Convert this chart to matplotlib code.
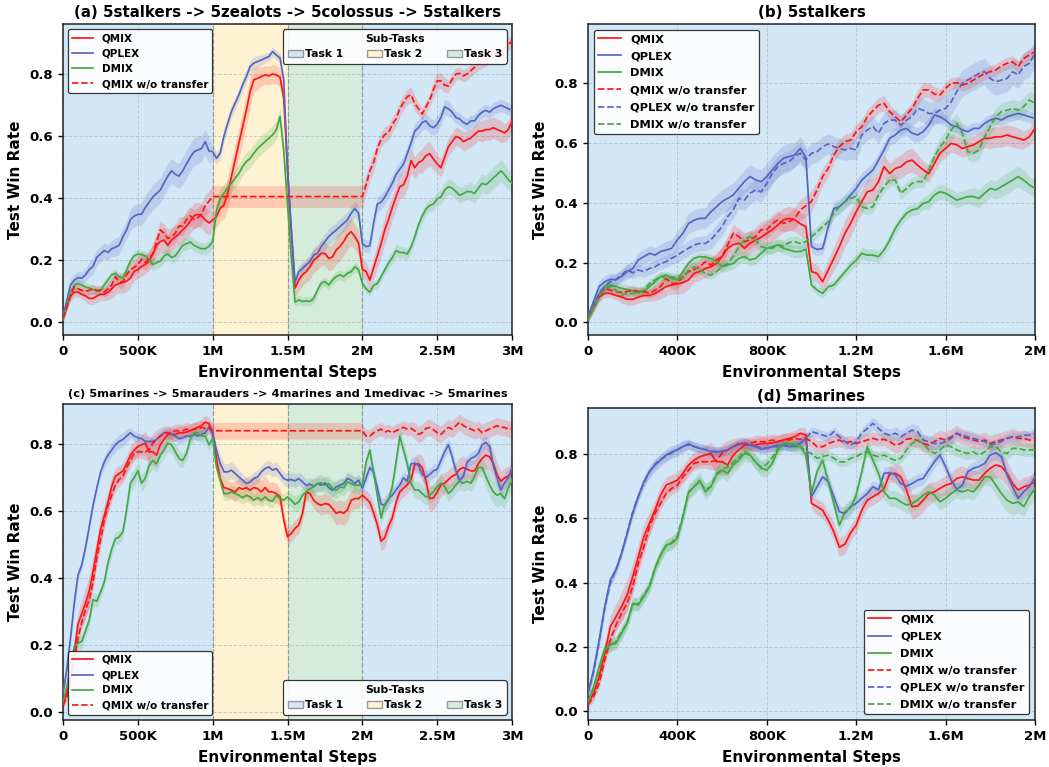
import numpy as np
import matplotlib
matplotlib.use("Agg")
import matplotlib.pyplot as plt
from matplotlib.patches import Patch
from matplotlib.ticker import FuncFormatter

plt.rcParams['font.family'] = ['DejaVu Sans']
plt.rcParams['font.weight'] = 'bold'
plt.rcParams['axes.labelweight'] = 'bold'
plt.rcParams['axes.titleweight'] = 'bold'

STEP = 25_000  # logging interval (env steps)

# ── 5stalkers (single task, 2M steps) ──────────────────────────────────────
B_QMIX = [0.013, 0.05, 0.085, 0.097, 0.097, 0.09, 0.085, 0.077, 0.077, 0.084,
          0.09, 0.09, 0.097, 0.108, 0.12, 0.125, 0.128, 0.133, 0.142, 0.164,
          0.17, 0.18, 0.186, 0.197, 0.22, 0.248, 0.26, 0.265, 0.248, 0.265,
          0.275, 0.285, 0.298, 0.31, 0.326, 0.343, 0.348, 0.343, 0.33, 0.32,
          0.17, 0.164, 0.136, 0.175, 0.214, 0.253, 0.298, 0.331, 0.37, 0.404,
          0.437, 0.443, 0.471, 0.521, 0.498, 0.515, 0.521, 0.537, 0.543, 0.526,
          0.51, 0.498, 0.532, 0.566, 0.582, 0.599, 0.594, 0.582, 0.588, 0.594,
          0.605, 0.616, 0.616, 0.621, 0.621, 0.627, 0.621, 0.616, 0.61, 0.621,
          0.649]
B_QPLEX = [0.02, 0.07, 0.12, 0.136, 0.144, 0.142, 0.153, 0.17, 0.18, 0.209,
           0.22, 0.231, 0.225, 0.237, 0.242, 0.248, 0.276, 0.298, 0.331, 0.342,
           0.348, 0.348, 0.37, 0.387, 0.404, 0.415, 0.426, 0.449, 0.471, 0.488,
           0.477, 0.471, 0.488, 0.51, 0.532, 0.549, 0.555, 0.56, 0.582, 0.552,
           0.253, 0.244, 0.247, 0.32, 0.381, 0.387, 0.404, 0.426, 0.448, 0.476,
           0.493, 0.51, 0.543, 0.577, 0.616, 0.627, 0.644, 0.649, 0.633, 0.627,
           0.638, 0.66, 0.694, 0.688, 0.677, 0.66, 0.655, 0.644, 0.638, 0.649,
           0.649, 0.666, 0.677, 0.683, 0.677, 0.688, 0.694, 0.699, 0.694, 0.688,
           0.683]
B_DMIX = [0.008, 0.052, 0.097, 0.12, 0.125, 0.12, 0.114, 0.11, 0.106, 0.1,
          0.103, 0.12, 0.136, 0.153, 0.158, 0.147, 0.142, 0.17, 0.197, 0.214,
          0.22, 0.218, 0.214, 0.203, 0.186, 0.192, 0.197, 0.214, 0.22, 0.209,
          0.214, 0.231, 0.248, 0.253, 0.259, 0.248, 0.242, 0.237, 0.237, 0.245,
          0.125, 0.108, 0.097, 0.119, 0.125, 0.147, 0.169, 0.191, 0.208, 0.231,
          0.225, 0.225, 0.22, 0.242, 0.275, 0.314, 0.342, 0.365, 0.376, 0.381,
          0.398, 0.404, 0.426, 0.437, 0.432, 0.421, 0.409, 0.415, 0.421, 0.421,
          0.415, 0.432, 0.448, 0.443, 0.454, 0.465, 0.476, 0.488, 0.476, 0.46,
          0.448]
B_QMIX_WO = [0.013, 0.05, 0.085, 0.114, 0.108, 0.103, 0.1, 0.103, 0.108, 0.103,
             0.103, 0.097, 0.108, 0.12, 0.147, 0.13, 0.13, 0.153, 0.17, 0.177,
             0.186, 0.203, 0.192, 0.209, 0.22, 0.259, 0.298, 0.287, 0.27, 0.276,
             0.287, 0.31, 0.31, 0.331, 0.343, 0.331, 0.337, 0.348, 0.376, 0.39,
             0.405, 0.443, 0.488, 0.515, 0.56, 0.588, 0.605, 0.61, 0.638, 0.655,
             0.688, 0.708, 0.727, 0.733, 0.705, 0.688, 0.671, 0.694, 0.716, 0.75,
             0.778, 0.778, 0.764, 0.761, 0.783, 0.8, 0.802, 0.794, 0.8, 0.811,
             0.822, 0.833, 0.839, 0.845, 0.858, 0.867, 0.872, 0.856, 0.883, 0.895,
             0.906]
B_QPLEX_WO = [0.02, 0.058, 0.097, 0.12, 0.136, 0.144, 0.158, 0.175, 0.166, 0.175,
              0.17, 0.18, 0.186, 0.197, 0.203, 0.214, 0.225, 0.237, 0.248, 0.259,
              0.264, 0.264, 0.276, 0.298, 0.32, 0.354, 0.376, 0.415, 0.409, 0.432,
              0.443, 0.437, 0.465, 0.499, 0.521, 0.532, 0.538, 0.555, 0.566, 0.543,
              0.566, 0.571, 0.588, 0.597, 0.588, 0.582, 0.577, 0.582, 0.577, 0.627,
              0.644, 0.655, 0.633, 0.666, 0.677, 0.677, 0.66, 0.677, 0.688, 0.716,
              0.71, 0.699, 0.699, 0.71, 0.716, 0.738, 0.772, 0.8, 0.811, 0.822,
              0.833, 0.839, 0.816, 0.805, 0.811, 0.816, 0.839, 0.828, 0.856, 0.867,
              0.9]
B_DMIX_WO = [0.008, 0.047, 0.085, 0.114, 0.12, 0.108, 0.091, 0.097, 0.097, 0.103,
             0.108, 0.13, 0.142, 0.155, 0.147, 0.153, 0.147, 0.147, 0.175, 0.186,
             0.175, 0.164, 0.158, 0.17, 0.186, 0.197, 0.22, 0.253, 0.276, 0.287,
             0.276, 0.253, 0.248, 0.248, 0.259, 0.256, 0.267, 0.27, 0.264, 0.27,
             0.286, 0.303, 0.32, 0.337, 0.365, 0.387, 0.404, 0.415, 0.421, 0.387,
             0.381, 0.387, 0.426, 0.454, 0.476, 0.476, 0.432, 0.448, 0.465, 0.471,
             0.471, 0.51, 0.554, 0.588, 0.61, 0.644, 0.666, 0.633, 0.571, 0.566,
             0.577, 0.621, 0.655, 0.688, 0.705, 0.71, 0.716, 0.71, 0.722, 0.744,
             0.733]

B_QMIX_SD = [0.01, 0.015, 0.015, 0.015, 0.015, 0.015, 0.02, 0.02, 0.02, 0.02,
             0.02, 0.02, 0.025, 0.03, 0.03, 0.03, 0.035, 0.035, 0.03, 0.03,
             0.03, 0.03, 0.03, 0.03, 0.035, 0.035, 0.04, 0.04, 0.035, 0.035,
             0.035, 0.035, 0.04, 0.04, 0.04, 0.04, 0.04, 0.04, 0.04, 0.04,
             0.03, 0.03, 0.03, 0.035, 0.04, 0.045, 0.045, 0.045, 0.04, 0.04,
             0.04, 0.04, 0.04, 0.04, 0.035, 0.035, 0.04, 0.04, 0.04, 0.035,
             0.03, 0.03, 0.03, 0.03, 0.03, 0.03, 0.03, 0.03, 0.03, 0.03,
             0.03, 0.03, 0.035, 0.035, 0.035, 0.035, 0.035, 0.035, 0.03, 0.03,
             0.03]
B_QPLEX_SD = [0.01, 0.015, 0.02, 0.02, 0.02, 0.02, 0.02, 0.025, 0.025, 0.025,
              0.025, 0.025, 0.025, 0.025, 0.03, 0.03, 0.03, 0.03, 0.035, 0.035,
              0.035, 0.035, 0.04, 0.04, 0.04, 0.04, 0.04, 0.04, 0.04, 0.04,
              0.04, 0.04, 0.045, 0.045, 0.045, 0.045, 0.045, 0.04, 0.04, 0.04,
              0.02, 0.02, 0.02, 0.025, 0.025, 0.025, 0.025, 0.025, 0.025, 0.025,
              0.025, 0.025, 0.025, 0.025, 0.025, 0.025, 0.025, 0.025, 0.025, 0.025,
              0.025, 0.025, 0.025, 0.025, 0.02, 0.02, 0.02, 0.02, 0.02, 0.02,
              0.02, 0.02, 0.02, 0.02, 0.02, 0.02, 0.02, 0.02, 0.02, 0.02,
              0.02]
B_DMIX_SD = [0.01, 0.01, 0.015, 0.015, 0.015, 0.015, 0.015, 0.015, 0.015, 0.015,
             0.015, 0.015, 0.015, 0.015, 0.015, 0.015, 0.015, 0.015, 0.015, 0.015,
             0.015, 0.015, 0.015, 0.015, 0.02, 0.02, 0.02, 0.02, 0.02, 0.02,
             0.02, 0.02, 0.02, 0.02, 0.02, 0.02, 0.02, 0.02, 0.02, 0.02,
             0.015, 0.015, 0.015, 0.015, 0.015, 0.015, 0.015, 0.02, 0.02, 0.02,
             0.02, 0.02, 0.02, 0.02, 0.02, 0.02, 0.02, 0.02, 0.02, 0.02,
             0.02, 0.025, 0.025, 0.025, 0.025, 0.025, 0.025, 0.025, 0.025, 0.03,
             0.03, 0.03, 0.03, 0.03, 0.035, 0.035, 0.035, 0.035, 0.035, 0.03,
             0.03]
B_QMIX_WO_SD = [0.01, 0.015, 0.015, 0.015, 0.015, 0.015, 0.015, 0.015, 0.015, 0.015,
                0.015, 0.015, 0.02, 0.02, 0.02, 0.02, 0.02, 0.02, 0.025, 0.025,
                0.025, 0.025, 0.025, 0.025, 0.03, 0.03, 0.03, 0.03, 0.03, 0.03,
                0.03, 0.03, 0.03, 0.03, 0.03, 0.03, 0.03, 0.035, 0.035, 0.035,
                0.035, 0.03, 0.03, 0.03, 0.025, 0.025, 0.025, 0.025, 0.025, 0.025,
                0.025, 0.025, 0.025, 0.025, 0.025, 0.02, 0.02, 0.02, 0.02, 0.025,
                0.025, 0.025, 0.025, 0.02, 0.02, 0.02, 0.02, 0.02, 0.02, 0.02,
                0.02, 0.02, 0.02, 0.02, 0.02, 0.02, 0.02, 0.02, 0.02, 0.02,
                0.02]
B_QPLEX_WO_SD = [0.01, 0.015, 0.015, 0.02, 0.02, 0.02, 0.02, 0.02, 0.02, 0.02,
                 0.02, 0.02, 0.02, 0.02, 0.02, 0.02, 0.025, 0.025, 0.025, 0.025,
                 0.025, 0.025, 0.03, 0.03, 0.03, 0.03, 0.03, 0.035, 0.035, 0.035,
                 0.035, 0.035, 0.035, 0.035, 0.035, 0.035, 0.035, 0.035, 0.035, 0.035,
                 0.035, 0.035, 0.035, 0.035, 0.035, 0.035, 0.035, 0.035, 0.035, 0.035,
                 0.035, 0.035, 0.035, 0.035, 0.035, 0.035, 0.035, 0.035, 0.035, 0.04,
                 0.04, 0.04, 0.04, 0.04, 0.045, 0.045, 0.045, 0.045, 0.045, 0.045,
                 0.045, 0.045, 0.045, 0.045, 0.045, 0.045, 0.045, 0.045, 0.045, 0.045,
                 0.045]
B_DMIX_WO_SD = [0.01, 0.015, 0.015, 0.015, 0.015, 0.015, 0.015, 0.015, 0.015, 0.015,
                0.015, 0.015, 0.015, 0.015, 0.015, 0.015, 0.015, 0.015, 0.015, 0.015,
                0.015, 0.015, 0.015, 0.015, 0.015, 0.015, 0.02, 0.02, 0.02, 0.02,
                0.02, 0.02, 0.02, 0.02, 0.02, 0.02, 0.02, 0.02, 0.02, 0.02,
                0.02, 0.02, 0.02, 0.02, 0.02, 0.02, 0.02, 0.02, 0.02, 0.02,
                0.02, 0.02, 0.02, 0.02, 0.02, 0.02, 0.02, 0.02, 0.02, 0.02,
                0.02, 0.025, 0.025, 0.03, 0.03, 0.035, 0.035, 0.03, 0.03, 0.03,
                0.03, 0.03, 0.03, 0.03, 0.03, 0.03, 0.03, 0.03, 0.03, 0.03,
                0.03]

# sequence (a): task 2 = 5zealots, task 3 = 5colossus (transfer runs only)
A_T2_QMIX = [0.33, 0.34, 0.367, 0.378, 0.416, 0.469, 0.523, 0.577, 0.63, 0.684,
             0.743, 0.781, 0.786, 0.792, 0.797, 0.794, 0.8, 0.797, 0.79, 0.72]
A_T3_QMIX = [0.49, 0.29, 0.11, 0.136, 0.153, 0.163, 0.179, 0.2, 0.21, 0.222,
             0.222, 0.206, 0.21, 0.233, 0.244, 0.26, 0.281, 0.292, 0.276, 0.255]
A_T2_QPLEX = [0.55, 0.528, 0.545, 0.6, 0.641, 0.679, 0.706, 0.733, 0.765, 0.792,
              0.824, 0.835, 0.84, 0.845, 0.851, 0.856, 0.872, 0.861, 0.851, 0.78]
A_T3_QPLEX = [0.49, 0.3, 0.13, 0.163, 0.174, 0.185, 0.195, 0.217, 0.222, 0.244,
              0.26, 0.276, 0.287, 0.297, 0.308, 0.319, 0.33, 0.351, 0.367, 0.351]
A_T2_DMIX = [0.26, 0.36, 0.4, 0.416, 0.432, 0.448, 0.464, 0.48, 0.502, 0.518,
             0.528, 0.545, 0.56, 0.571, 0.582, 0.593, 0.604, 0.62, 0.663, 0.55]
A_T3_DMIX = [0.38, 0.21, 0.065, 0.072, 0.067, 0.069, 0.067, 0.077, 0.104, 0.126,
             0.131, 0.12, 0.136, 0.147, 0.153, 0.147, 0.158, 0.163, 0.179, 0.169]
A_T2_QMIX_SD = [0.03, 0.035, 0.04, 0.045, 0.05, 0.05, 0.05, 0.05, 0.05, 0.05,
                0.05, 0.04, 0.035, 0.03, 0.03, 0.03, 0.03, 0.03, 0.03, 0.03]
A_T3_QMIX_SD = [0.03, 0.03, 0.03, 0.035, 0.035, 0.035, 0.04, 0.04, 0.04, 0.04,
                0.04, 0.04, 0.04, 0.045, 0.045, 0.045, 0.045, 0.045, 0.04, 0.04]
A_T2_QPLEX_SD = [0.02, 0.02, 0.02, 0.02, 0.02, 0.02, 0.02, 0.02, 0.02, 0.02,
                 0.02, 0.02, 0.02, 0.015, 0.015, 0.015, 0.015, 0.015, 0.015, 0.015]
A_T3_QPLEX_SD = [0.02, 0.02, 0.02, 0.02, 0.02, 0.02, 0.02, 0.02, 0.02, 0.025,
                 0.025, 0.025, 0.025, 0.025, 0.025, 0.025, 0.025, 0.025, 0.025, 0.025]
A_T2_DMIX_SD = [0.02, 0.03, 0.03, 0.03, 0.03, 0.03, 0.03, 0.03, 0.03, 0.03,
                0.03, 0.03, 0.03, 0.03, 0.03, 0.03, 0.03, 0.03, 0.03, 0.03]
A_T3_DMIX_SD = [0.015, 0.015, 0.015, 0.015, 0.015, 0.015, 0.015, 0.015, 0.015, 0.015,
                0.015, 0.015, 0.015, 0.015, 0.015, 0.015, 0.015, 0.015, 0.015, 0.015]
A_QMIX_WO_HOLD = 0.405
A_QMIX_WO_HOLD_SD = 0.035

# ── 5marines (single task, 2M steps) ───────────────────────────────────────
D_QMIX = [0.023, 0.054, 0.106, 0.179, 0.262, 0.293, 0.325, 0.361, 0.418, 0.48,
          0.543, 0.585, 0.626, 0.673, 0.704, 0.712, 0.72, 0.741, 0.767, 0.782,
          0.793, 0.798, 0.803, 0.777, 0.777, 0.767, 0.798, 0.814, 0.829, 0.829,
          0.829, 0.834, 0.834, 0.836, 0.84, 0.845, 0.85, 0.855, 0.866, 0.861,
          0.647, 0.637, 0.626, 0.595, 0.559, 0.51, 0.52, 0.555, 0.579, 0.626,
          0.657, 0.668, 0.678, 0.694, 0.739, 0.741, 0.73, 0.689, 0.637, 0.639,
          0.657, 0.678, 0.683, 0.694, 0.704, 0.709, 0.725, 0.73, 0.725, 0.72,
          0.72, 0.741, 0.757, 0.767, 0.762, 0.741, 0.709, 0.689, 0.699, 0.704,
          0.715]
D_QPLEX = [0.054, 0.127, 0.22, 0.325, 0.408, 0.439, 0.491, 0.553, 0.616, 0.668,
           0.715, 0.746, 0.767, 0.782, 0.798, 0.808, 0.814, 0.824, 0.834, 0.824,
           0.819, 0.816, 0.808, 0.808, 0.808, 0.814, 0.824, 0.834, 0.834, 0.829,
           0.824, 0.816, 0.819, 0.824, 0.824, 0.829, 0.824, 0.829, 0.834, 0.85,
           0.668, 0.699, 0.73, 0.715, 0.668, 0.621, 0.616, 0.637, 0.647, 0.663,
           0.678, 0.699, 0.689, 0.741, 0.743, 0.736, 0.709, 0.701, 0.709, 0.72,
           0.725, 0.751, 0.777, 0.798, 0.762, 0.72, 0.691, 0.704, 0.746, 0.757,
           0.762, 0.772, 0.798, 0.805, 0.793, 0.736, 0.699, 0.663, 0.684, 0.699,
           0.73]
D_DMIX = [0.028, 0.075, 0.137, 0.195, 0.205, 0.21, 0.241, 0.273, 0.335, 0.33,
          0.356, 0.387, 0.444, 0.486, 0.517, 0.522, 0.538, 0.605, 0.683, 0.699,
          0.72, 0.683, 0.699, 0.736, 0.751, 0.741, 0.767, 0.782, 0.803, 0.798,
          0.777, 0.757, 0.751, 0.772, 0.814, 0.834, 0.834, 0.824, 0.824, 0.798,
          0.678, 0.746, 0.782, 0.715, 0.647, 0.579, 0.621, 0.632, 0.673, 0.746,
          0.824, 0.782, 0.741, 0.683, 0.663, 0.663, 0.652, 0.642, 0.647, 0.657,
          0.673, 0.683, 0.673, 0.652, 0.663, 0.678, 0.689, 0.683, 0.689, 0.683,
          0.704, 0.73, 0.73, 0.704, 0.678, 0.657, 0.647, 0.652, 0.637, 0.668,
          0.694]
D_QMIX_WO = [0.018, 0.044, 0.085, 0.158, 0.22, 0.267, 0.304, 0.335, 0.387, 0.46,
             0.512, 0.574, 0.616, 0.647, 0.678, 0.694, 0.704, 0.73, 0.751, 0.772,
             0.777, 0.777, 0.777, 0.782, 0.803, 0.814, 0.824, 0.834, 0.834, 0.834,
             0.84, 0.84, 0.84, 0.845, 0.84, 0.845, 0.845, 0.85, 0.847, 0.85,
             0.84, 0.824, 0.824, 0.834, 0.84, 0.845, 0.836, 0.84, 0.834, 0.84,
             0.845, 0.85, 0.845, 0.847, 0.84, 0.829, 0.834, 0.847, 0.85, 0.843,
             0.834, 0.829, 0.84, 0.85, 0.845, 0.855, 0.866, 0.855, 0.85, 0.845,
             0.84, 0.845, 0.834, 0.84, 0.845, 0.85, 0.855, 0.85, 0.85, 0.845,
             0.845]
D_QPLEX_WO = [0.05, 0.12, 0.215, 0.32, 0.40, 0.44, 0.49, 0.555, 0.62, 0.67,
              0.71, 0.745, 0.77, 0.785, 0.795, 0.805, 0.815, 0.825, 0.83, 0.825,
              0.82, 0.815, 0.81, 0.81, 0.81, 0.815, 0.825, 0.83, 0.835, 0.83,
              0.825, 0.82, 0.82, 0.825, 0.83, 0.83, 0.825, 0.825, 0.835, 0.85,
              0.871, 0.866, 0.86, 0.855, 0.871, 0.855, 0.84, 0.829, 0.84, 0.866,
              0.881, 0.897, 0.881, 0.866, 0.86, 0.866, 0.855, 0.866, 0.876, 0.871,
              0.845, 0.84, 0.834, 0.834, 0.84, 0.85, 0.866, 0.86, 0.855, 0.85,
              0.845, 0.84, 0.829, 0.834, 0.84, 0.85, 0.855, 0.855, 0.86, 0.86,
              0.866]
D_DMIX_WO = [0.025, 0.07, 0.13, 0.19, 0.205, 0.215, 0.245, 0.275, 0.33, 0.335,
             0.36, 0.39, 0.445, 0.485, 0.515, 0.525, 0.545, 0.61, 0.68, 0.70,
             0.715, 0.69, 0.70, 0.74, 0.755, 0.76, 0.775, 0.79, 0.81, 0.80,
             0.775, 0.76, 0.77, 0.79, 0.82, 0.835, 0.835, 0.83, 0.825, 0.81,
             0.803, 0.788, 0.793, 0.798, 0.788, 0.777, 0.777, 0.788, 0.793, 0.803,
             0.808, 0.798, 0.793, 0.798, 0.788, 0.782, 0.788, 0.814, 0.834, 0.845,
             0.834, 0.814, 0.803, 0.814, 0.829, 0.824, 0.814, 0.808, 0.803, 0.808,
             0.798, 0.808, 0.824, 0.824, 0.808, 0.803, 0.819, 0.819, 0.814, 0.814,
             0.814]

D_QMIX_SD = [0.01, 0.015, 0.02, 0.03, 0.035, 0.04, 0.045, 0.045, 0.045, 0.04,
             0.04, 0.035, 0.03, 0.03, 0.025, 0.025, 0.025, 0.025, 0.025, 0.025,
             0.025, 0.03, 0.035, 0.04, 0.04, 0.035, 0.03, 0.025, 0.02, 0.02,
             0.02, 0.02, 0.02, 0.02, 0.02, 0.02, 0.02, 0.02, 0.02, 0.02,
             0.02, 0.025, 0.025, 0.025, 0.03, 0.03, 0.03, 0.025, 0.025, 0.025,
             0.025, 0.025, 0.025, 0.025, 0.025, 0.03, 0.035, 0.04, 0.04, 0.035,
             0.035, 0.035, 0.03, 0.03, 0.03, 0.035, 0.035, 0.035, 0.03, 0.03,
             0.03, 0.03, 0.035, 0.04, 0.04, 0.04, 0.035, 0.03, 0.03, 0.03,
             0.03]
D_QPLEX_SD = [0.01, 0.015, 0.015, 0.015, 0.015, 0.015, 0.015, 0.015, 0.015, 0.015,
              0.015, 0.02, 0.02, 0.02, 0.02, 0.02, 0.02, 0.02, 0.015, 0.015,
              0.015, 0.015, 0.015, 0.015, 0.015, 0.015, 0.015, 0.015, 0.015, 0.015,
              0.015, 0.015, 0.015, 0.015, 0.015, 0.015, 0.015, 0.015, 0.015, 0.015,
              0.015, 0.02, 0.02, 0.02, 0.02, 0.02, 0.02, 0.02, 0.02, 0.02,
              0.02, 0.02, 0.02, 0.02, 0.02, 0.02, 0.02, 0.02, 0.02, 0.02,
              0.02, 0.02, 0.02, 0.02, 0.02, 0.02, 0.02, 0.02, 0.02, 0.02,
              0.02, 0.02, 0.02, 0.02, 0.02, 0.02, 0.025, 0.025, 0.025, 0.025,
              0.025]
D_DMIX_SD = [0.01, 0.015, 0.015, 0.02, 0.02, 0.02, 0.02, 0.02, 0.02, 0.02,
             0.02, 0.02, 0.02, 0.02, 0.02, 0.02, 0.02, 0.025, 0.025, 0.025,
             0.025, 0.025, 0.025, 0.025, 0.025, 0.025, 0.025, 0.025, 0.025, 0.025,
             0.025, 0.025, 0.02, 0.02, 0.02, 0.02, 0.02, 0.02, 0.02, 0.02,
             0.02, 0.025, 0.025, 0.025, 0.025, 0.025, 0.025, 0.025, 0.025, 0.025,
             0.025, 0.025, 0.025, 0.025, 0.025, 0.025, 0.025, 0.025, 0.025, 0.025,
             0.025, 0.025, 0.025, 0.025, 0.025, 0.025, 0.025, 0.025, 0.025, 0.025,
             0.025, 0.025, 0.03, 0.03, 0.035, 0.035, 0.035, 0.035, 0.03, 0.03,
             0.03]
D_QMIX_WO_SD = [0.01, 0.015, 0.015, 0.02, 0.02, 0.02, 0.025, 0.025, 0.025, 0.025,
                0.025, 0.025, 0.025, 0.02, 0.02, 0.02, 0.02, 0.02, 0.02, 0.02,
                0.02, 0.02, 0.025, 0.03, 0.03, 0.03, 0.025, 0.02, 0.02, 0.02,
                0.02, 0.02, 0.02, 0.02, 0.02, 0.02, 0.02, 0.02, 0.02, 0.02,
                0.02, 0.02, 0.02, 0.02, 0.02, 0.02, 0.02, 0.02, 0.02, 0.02,
                0.02, 0.02, 0.02, 0.02, 0.025, 0.025, 0.025, 0.025, 0.025, 0.025,
                0.025, 0.025, 0.025, 0.025, 0.025, 0.025, 0.025, 0.025, 0.025, 0.025,
                0.025, 0.025, 0.025, 0.025, 0.025, 0.025, 0.025, 0.025, 0.025, 0.025,
                0.025]
D_QPLEX_WO_SD = [0.01, 0.015, 0.015, 0.015, 0.015, 0.015, 0.015, 0.015, 0.015, 0.015,
                 0.015, 0.015, 0.015, 0.015, 0.015, 0.015, 0.015, 0.015, 0.015, 0.015,
                 0.015, 0.015, 0.015, 0.015, 0.015, 0.015, 0.015, 0.015, 0.015, 0.015,
                 0.015, 0.015, 0.015, 0.015, 0.015, 0.015, 0.015, 0.015, 0.015, 0.015,
                 0.015, 0.015, 0.015, 0.015, 0.015, 0.015, 0.015, 0.015, 0.015, 0.015,
                 0.02, 0.02, 0.02, 0.02, 0.02, 0.02, 0.02, 0.02, 0.02, 0.02,
                 0.02, 0.02, 0.02, 0.02, 0.015, 0.015, 0.015, 0.015, 0.015, 0.015,
                 0.015, 0.015, 0.015, 0.015, 0.015, 0.015, 0.015, 0.015, 0.015, 0.015,
                 0.015]
D_DMIX_WO_SD = [0.01, 0.015, 0.015, 0.02, 0.02, 0.02, 0.02, 0.02, 0.02, 0.02,
                0.02, 0.02, 0.02, 0.02, 0.02, 0.02, 0.02, 0.02, 0.02, 0.02,
                0.02, 0.02, 0.02, 0.02, 0.02, 0.02, 0.02, 0.02, 0.02, 0.02,
                0.02, 0.02, 0.02, 0.02, 0.015, 0.015, 0.015, 0.015, 0.015, 0.015,
                0.015, 0.015, 0.015, 0.015, 0.015, 0.015, 0.015, 0.015, 0.015, 0.015,
                0.015, 0.015, 0.015, 0.015, 0.015, 0.015, 0.015, 0.02, 0.02, 0.02,
                0.02, 0.02, 0.02, 0.02, 0.02, 0.02, 0.02, 0.02, 0.02, 0.02,
                0.02, 0.02, 0.02, 0.02, 0.02, 0.02, 0.02, 0.02, 0.02, 0.02,
                0.02]

# sequence (c): task 2 = 5marauders, task 3 = 4marines and 1medivac
C_T2_QMIX = [0.832, 0.757, 0.697, 0.67, 0.667, 0.662, 0.657, 0.67, 0.665, 0.67,
             0.662, 0.67, 0.667, 0.657, 0.67, 0.657, 0.657, 0.652, 0.642, 0.573]
C_T3_QMIX = [0.523, 0.533, 0.548, 0.558, 0.593, 0.657, 0.652, 0.632, 0.622, 0.617,
             0.622, 0.62, 0.608, 0.593, 0.598, 0.593, 0.603, 0.632, 0.637, 0.637]
C_T2_QPLEX = [0.832, 0.782, 0.742, 0.717, 0.717, 0.722, 0.712, 0.702, 0.692, 0.682,
              0.687, 0.697, 0.702, 0.717, 0.727, 0.732, 0.722, 0.727, 0.712, 0.697]
C_T3_QPLEX = [0.692, 0.694, 0.69, 0.697, 0.687, 0.677, 0.68, 0.674, 0.682, 0.677,
              0.684, 0.67, 0.662, 0.672, 0.677, 0.682, 0.697, 0.692, 0.682, 0.692]
C_T2_DMIX = [0.817, 0.732, 0.692, 0.652, 0.652, 0.657, 0.652, 0.647, 0.64, 0.647,
             0.642, 0.632, 0.64, 0.632, 0.642, 0.632, 0.63, 0.647, 0.637, 0.632]
C_T3_DMIX = [0.642, 0.632, 0.62, 0.627, 0.647, 0.657, 0.667, 0.672, 0.682, 0.684,
             0.677, 0.682, 0.667, 0.662, 0.672, 0.67, 0.687, 0.682, 0.677, 0.677]
C_T2_QMIX_SD = [0.02, 0.02, 0.025, 0.025, 0.025, 0.025, 0.03, 0.03, 0.03, 0.03,
                0.035, 0.035, 0.035, 0.035, 0.035, 0.03, 0.03, 0.03, 0.025, 0.025]
C_T3_QMIX_SD = [0.025, 0.025, 0.025, 0.025, 0.025, 0.025, 0.025, 0.025, 0.025, 0.03,
                0.03, 0.03, 0.03, 0.035, 0.035, 0.035, 0.035, 0.03, 0.03, 0.03]
C_T2_QPLEX_SD = [0.02, 0.02, 0.025, 0.025, 0.025, 0.025, 0.025, 0.02, 0.02, 0.02,
                 0.02, 0.02, 0.02, 0.02, 0.02, 0.02, 0.02, 0.02, 0.02, 0.02]
C_T3_QPLEX_SD = [0.02, 0.02, 0.02, 0.02, 0.02, 0.02, 0.02, 0.02, 0.02, 0.02,
                 0.02, 0.02, 0.02, 0.02, 0.02, 0.02, 0.02, 0.02, 0.02, 0.02]
C_T2_DMIX_SD = [0.02, 0.02, 0.02, 0.02, 0.02, 0.02, 0.02, 0.02, 0.02, 0.02,
                0.02, 0.02, 0.02, 0.02, 0.02, 0.02, 0.02, 0.02, 0.02, 0.02]
C_T3_DMIX_SD = [0.02, 0.02, 0.025, 0.025, 0.025, 0.025, 0.025, 0.025, 0.025, 0.025,
                0.025, 0.025, 0.025, 0.025, 0.025, 0.025, 0.025, 0.025, 0.025, 0.025]
C_QMIX_WO_HOLD = 0.84
C_QMIX_WO_HOLD_SD = 0.025

COLORS = {'QMIX': '#ff1414', 'QPLEX': '#5566c2', 'DMIX': '#44a844'}
TASK_COLORS = ['#d2e7f6', '#fdf2d2', '#d5ecdc']
TASK_NAMES = ['Task 1', 'Task 2', 'Task 3']


def stitch(single, task2, task3):
    """task-1 run split at 1M, tasks 2/3 inserted between the halves"""
    single = np.asarray(single)
    return np.concatenate([single[:40], task2, task3, single[40:]])


def hold(single, value):
    single = np.asarray(single)
    return np.concatenate([single[:40], np.full(40, value), single[40:]])


def steps_fmt(v, _pos):
    if v == 0:
        return '0'
    if v >= 1e6:
        return f'{v / 1e6:g}M'
    return f'{v / 1e3:g}K'


def draw_panel(ax, series, title, xmax, xticks, ylim, title_size=10.8,
               legend_loc='upper left', legend_size=7.5, legend_spacing=0.5,
               task_legend_loc=None):
    ax.set_facecolor(TASK_COLORS[0])
    if task_legend_loc is not None:
        ax.axvspan(1.0e6, 1.5e6, color=TASK_COLORS[1], lw=0, zorder=0)
        ax.axvspan(1.5e6, 2.0e6, color=TASK_COLORS[2], lw=0, zorder=0)
        for xv in (1.0e6, 1.5e6, 2.0e6):
            ax.axvline(xv, color='#999999', ls='--', lw=0.9, zorder=1)

    handles = []
    for label, y, sd, color, ls in series:
        y = np.asarray(y)
        sd = np.asarray(sd)
        x = np.arange(len(y)) * STEP
        ax.fill_between(x, y - sd, y + sd, color=color, alpha=0.18, lw=0, zorder=2)
        h, = ax.plot(x, y, color=color, ls=ls, lw=1.25, label=label, zorder=3)
        handles.append(h)

    ax.set_xlim(0, xmax)
    ax.set_ylim(*ylim)
    ax.set_xticks(xticks)
    ax.set_yticks([0.0, 0.2, 0.4, 0.6, 0.8])
    ax.xaxis.set_major_formatter(FuncFormatter(steps_fmt))
    ax.tick_params(labelsize=9.5, width=1, length=3.5)
    ax.grid(True, ls='--', color='#aaaaaa', alpha=0.55, lw=0.7)
    ax.set_axisbelow(True)
    for sp in ax.spines.values():
        sp.set_linewidth(1.1)
        sp.set_color('#222222')
    ax.set_xlabel('Environmental Steps', fontsize=11, labelpad=5)
    ax.set_ylabel('Test Win Rate', fontsize=11, labelpad=5)
    ax.set_title(title, fontsize=title_size, pad=5)

    leg = ax.legend(handles=handles, loc=legend_loc, fontsize=legend_size,
                    labelspacing=legend_spacing, framealpha=0.9,
                    edgecolor='#222222', fancybox=True)
    leg.get_frame().set_linewidth(0.9)
    if task_legend_loc is not None:
        ax.add_artist(leg)
        patches = [Patch(facecolor=c, edgecolor='#999999', label=n)
                   for c, n in zip(TASK_COLORS, TASK_NAMES)]
        tleg = ax.legend(handles=patches, loc=task_legend_loc, ncol=3,
                         title='Sub-Tasks', fontsize=7.8, title_fontsize=7.8,
                         handlelength=1.4, handletextpad=0.2, columnspacing=2.2,
                         framealpha=0.9, edgecolor='#222222', fancybox=True)
        tleg.get_frame().set_linewidth(0.9)
        tleg.get_title().set_fontweight('bold')


fig = plt.figure(figsize=(10.49, 7.67), dpi=100)
ax_a = fig.add_axes([0.0601, 0.5632, 0.4280, 0.4055])
ax_b = fig.add_axes([0.5605, 0.5632, 0.4261, 0.4055])
ax_c = fig.add_axes([0.0601, 0.0613, 0.4280, 0.4120])
ax_d = fig.add_axes([0.5605, 0.0613, 0.4261, 0.4068])

xt3 = [0, 5e5, 1e6, 1.5e6, 2e6, 2.5e6, 3e6]
xt2 = [0, 4e5, 8e5, 1.2e6, 1.6e6, 2e6]

draw_panel(ax_a, [
    ('QMIX', stitch(B_QMIX, A_T2_QMIX, A_T3_QMIX),
     stitch(B_QMIX_SD, A_T2_QMIX_SD, A_T3_QMIX_SD), COLORS['QMIX'], '-'),
    ('QPLEX', stitch(B_QPLEX, A_T2_QPLEX, A_T3_QPLEX),
     stitch(B_QPLEX_SD, A_T2_QPLEX_SD, A_T3_QPLEX_SD), COLORS['QPLEX'], '-'),
    ('DMIX', stitch(B_DMIX, A_T2_DMIX, A_T3_DMIX),
     stitch(B_DMIX_SD, A_T2_DMIX_SD, A_T3_DMIX_SD), COLORS['DMIX'], '-'),
    ('QMIX w/o transfer', hold(B_QMIX_WO, A_QMIX_WO_HOLD),
     hold(B_QMIX_WO_SD, A_QMIX_WO_HOLD_SD), COLORS['QMIX'], '--'),
], '(a) 5stalkers -> 5zealots -> 5colossus -> 5stalkers', 3e6, xt3,
    (-0.041, 0.961), legend_loc='upper left', task_legend_loc='upper right')

draw_panel(ax_b, [
    ('QMIX', B_QMIX, B_QMIX_SD, COLORS['QMIX'], '-'),
    ('QPLEX', B_QPLEX, B_QPLEX_SD, COLORS['QPLEX'], '-'),
    ('DMIX', B_DMIX, B_DMIX_SD, COLORS['DMIX'], '-'),
    ('QMIX w/o transfer', B_QMIX_WO, B_QMIX_WO_SD, COLORS['QMIX'], '--'),
    ('QPLEX w/o transfer', B_QPLEX_WO, B_QPLEX_WO_SD, COLORS['QPLEX'], '--'),
    ('DMIX w/o transfer', B_DMIX_WO, B_DMIX_WO_SD, COLORS['DMIX'], '--'),
], '(b) 5stalkers', 2e6, xt2, (-0.0425, 0.9985), legend_loc='upper left',
    legend_size=8.2, legend_spacing=0.62)

draw_panel(ax_c, [
    ('QMIX', stitch(D_QMIX, C_T2_QMIX, C_T3_QMIX),
     stitch(D_QMIX_SD, C_T2_QMIX_SD, C_T3_QMIX_SD), COLORS['QMIX'], '-'),
    ('QPLEX', stitch(D_QPLEX, C_T2_QPLEX, C_T3_QPLEX),
     stitch(D_QPLEX_SD, C_T2_QPLEX_SD, C_T3_QPLEX_SD), COLORS['QPLEX'], '-'),
    ('DMIX', stitch(D_DMIX, C_T2_DMIX, C_T3_DMIX),
     stitch(D_DMIX_SD, C_T2_DMIX_SD, C_T3_DMIX_SD), COLORS['DMIX'], '-'),
    ('QMIX w/o transfer', hold(D_QMIX_WO, C_QMIX_WO_HOLD),
     hold(D_QMIX_WO_SD, C_QMIX_WO_HOLD_SD), COLORS['QMIX'], '--'),
], '(c) 5marines -> 5marauders -> 4marines and 1medivac -> 5marines', 3e6, xt3,
    (-0.025, 0.92), title_size=8.2, legend_loc='lower left',
    task_legend_loc='lower right')

draw_panel(ax_d, [
    ('QMIX', D_QMIX, D_QMIX_SD, COLORS['QMIX'], '-'),
    ('QPLEX', D_QPLEX, D_QPLEX_SD, COLORS['QPLEX'], '-'),
    ('DMIX', D_DMIX, D_DMIX_SD, COLORS['DMIX'], '-'),
    ('QMIX w/o transfer', D_QMIX_WO, D_QMIX_WO_SD, COLORS['QMIX'], '--'),
    ('QPLEX w/o transfer', D_QPLEX_WO, D_QPLEX_WO_SD, COLORS['QPLEX'], '--'),
    ('DMIX w/o transfer', D_DMIX_WO, D_DMIX_WO_SD, COLORS['DMIX'], '--'),
], '(d) 5marines', 2e6, xt2, (-0.029, 0.945), legend_loc='lower right',
    legend_size=8.2, legend_spacing=0.62)

fig.savefig('out.png', dpi=100)
